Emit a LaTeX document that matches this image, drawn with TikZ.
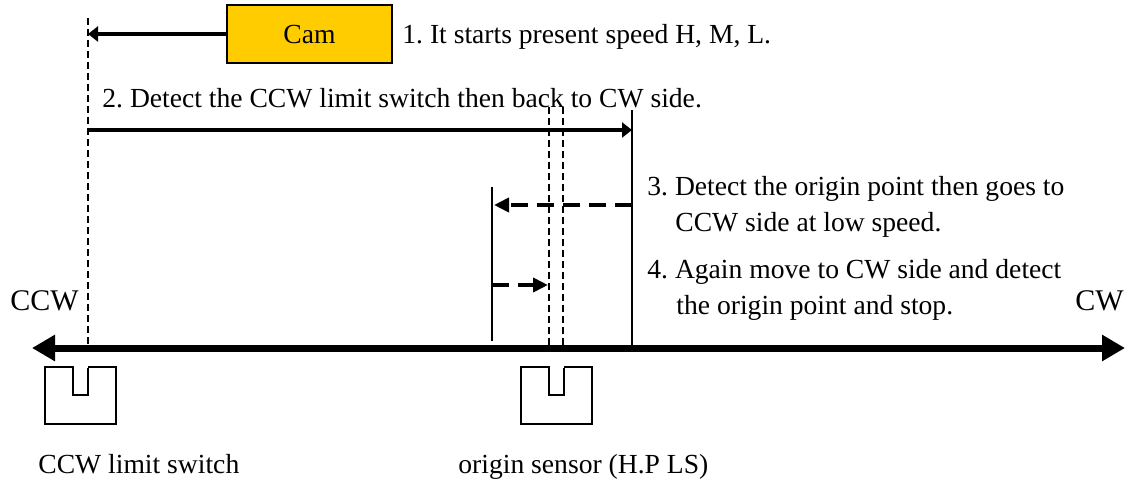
\documentclass[tikz,border=0pt]{standalone}
\usepackage{fontspec}
\setmainfont{Liberation Serif}
\usetikzlibrary{arrows.meta}
\frenchspacing

\tikzset{
  axis/.style={line width=3.5pt,{Triangle[length=11.5pt,width=12.5pt]}-{Triangle[length=11.5pt,width=12.5pt]}},
  guide/.style={line width=0.8pt,dash pattern=on 3.5pt off 2pt},
  stopline/.style={line width=0.8pt},
  fastmove/.style={line width=2.2pt,-{Triangle[length=5pt,width=7.5pt]}},
  slowmove/.style={line width=2pt,dash pattern=on 8.5pt off 4.5pt,-{Triangle[length=7.5pt,width=7pt]}},
  camblock/.style={draw,line width=1pt,fill=camyellow,minimum width=82.5pt,minimum height=29pt,inner sep=0pt},
  note/.style={anchor=base west,inner sep=0pt,font=\fontsize{13.8}{16}\selectfont},
  side/.style={anchor=base west,inner sep=0pt,font=\fontsize{15}{18}\selectfont},
  switchbox/.pic={
    \draw[line width=0.8pt] (-28,0) rectangle (43,57);
    \draw[line width=0.8pt,fill=white] (0,-1) -- (0,28) -- (15,28) -- (15,-1);
    \draw[white,line width=1pt] (0.5,0) -- (14.5,0);
  }
}
\definecolor{camyellow}{HTML}{FFCC00}

\begin{document}
\begin{tikzpicture}[x=0.5pt,y=-0.5pt]
  \useasboundingbox (0,0) rectangle (1134,481);

  % sliding cam and first move
  \node[camblock] (cam) at (309.5,34) {\fontsize{13.8}{16}\selectfont Cam};
  \coordinate (ccwstop) at (88,34);
  \draw[fastmove] (cam.west) -- (ccwstop);
  \node[note] (step1) at (402,44) {1. It starts present speed H, M, L.};

  % guide lines
  \coordinate (ccwtop) at (88,18);
  \coordinate (ccwbot) at (88,345);
  \draw[guide] (ccwtop) -- (ccwbot);
  \draw[guide] (549,107) -- (549,345);
  \draw[guide] (563,107) -- (563,345);
  \draw[stopline] (632,110) -- (632,348);
  \draw[stopline] (492,187) -- (492,341);

  % back to CW side
  \node[note] (step2) at (102,108) {2. Detect the CCW limit switch then back to CW side.};
  \coordinate (back0) at (88,130);
  \coordinate (back1) at (632,130);
  \draw[fastmove] (back0) -- (back1);

  % low speed moves
  \coordinate (slow0) at (632,205);
  \coordinate (slow1) at (494,205);
  \draw[slowmove] (slow0) -- (slow1);
  \coordinate (ret0) at (492,285);
  \coordinate (ret1) at (548,285);
  \draw[slowmove] (ret0) -- (ret1);

  \node[note] (step3a) at (647,195) {3. Detect the origin point then goes to};
  \node[note] (step3b) at (675,231) {CCW side at low speed.};
  \node[note] (step4a) at (647,278) {4. Again move to CW side and detect};
  \node[note] (step4b) at (676,314) {the origin point and stop.};

  % direction axis
  \node[side] (ccw) at (10,310) {CCW};
  \node[side] (cw) at (1075,310) {CW};
  \coordinate (axisL) at (32,348);
  \coordinate (axisR) at (1125,348);
  \draw[axis] (axisL) -- (axisR);

  % switches
  \pic at (73,367) {switchbox};
  \pic at (549,367) {switchbox};
  \node[note] (ccwls) at (38,473) {CCW limit switch};
  \node[note] (hpls) at (458,473) {origin sensor (H.P LS)};
\end{tikzpicture}
\end{document}
